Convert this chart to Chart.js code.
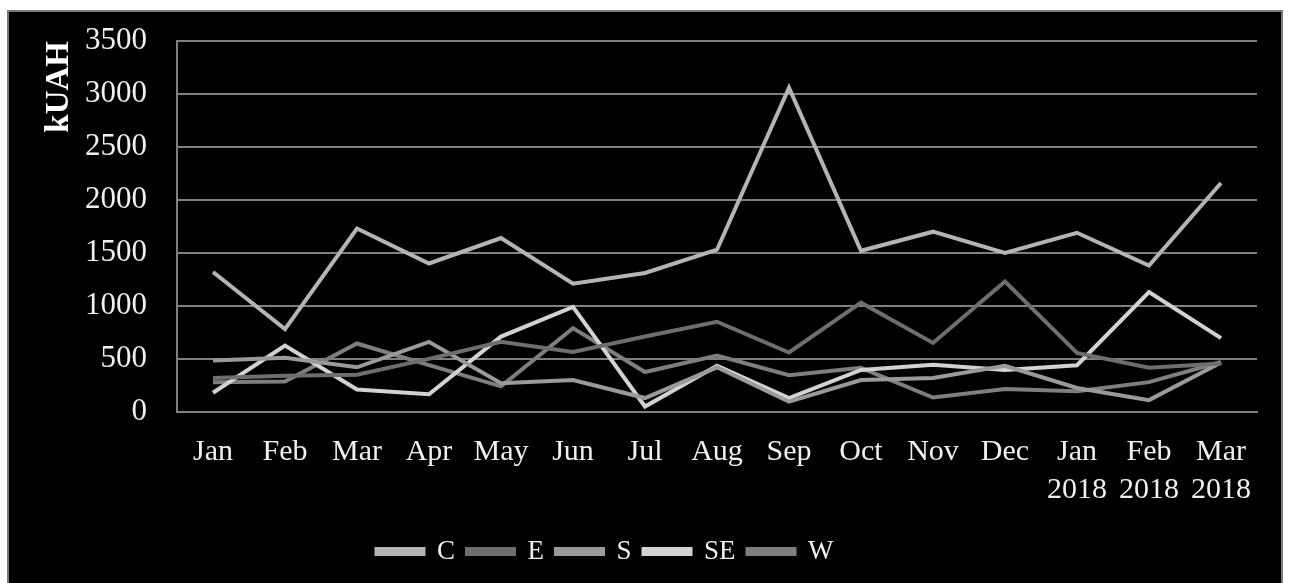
<!DOCTYPE html>
<html>
<head>
<meta charset="utf-8">
<script src="https://cdn.jsdelivr.net/npm/chart.js@4/dist/chart.umd.min.js"></script>
<style>
  html, body { margin: 0; padding: 0; background: #ffffff; overflow: hidden; }
  #box {
    position: absolute; left: 7px; top: 10px;
    width: 1272px; height: 600px;
    background: #000; border: 2px solid #7a7a7a;
  }
  #wrap { position: absolute; left: 0; top: 0; width: 1272px; height: 571px; }
</style>
</head>
<body>
<div id="box"><div id="wrap"><canvas id="myChart" width="1272" height="571"></canvas></div></div>
<script>
// months (two-line labels for 2018)
var labels = ['Jan', 'Feb', 'Mar', 'Apr', 'May', 'Jun', 'Jul', 'Aug', 'Sep', 'Oct', 'Nov', 'Dec',
    ['Jan', '2018'], ['Feb', '2018'], ['Mar', '2018']];

var seriesC  = [1320, 780, 1730, 1400, 1640, 1210, 1310, 1530, 3060, 1520, 1700, 1500, 1690, 1380, 2160];
var seriesE  = [320, 340, 350, 500, 660, 565, 710, 850, 560, 1030, 650, 1230, 555, 415, 455];
var seriesS  = [485, 510, 420, 660, 270, 300, 130, 420, 95, 300, 320, 435, 225, 110, 465];
var seriesSE = [180, 625, 210, 165, 710, 990, 50, 435, 130, 395, 445, 395, 440, 1130, 695];
var seriesW  = [280, 285, 645, 440, 240, 790, 375, 530, 345, 415, 135, 215, 195, 280, 470];

var yTicks = [0, 500, 1000, 1500, 2000, 2500, 3000, 3500];

function line(name, data, color) {
    return {
        label: name,
        data: data,
        borderColor: color,
        backgroundColor: color,
        borderWidth: 4,
        pointRadius: 0,
        tension: 0,
        fill: false
    };
}

// the legend sits a little left of centre and a bit higher in the original
var shiftLegend = {
    id: 'shiftLegend',
    beforeDraw: function (chart) {
        var lg = chart.legend;
        if (lg && !lg._shifted) {
            lg.left -= 38;
            lg.right -= 38;
            lg.top -= 4;
            lg.bottom -= 4;
            lg._shifted = true;
        }
    }
};

var ctx = document.getElementById('myChart').getContext('2d');
var chart = new Chart(ctx, {
    type: 'line',
    data: {
        labels: labels,
        datasets: [
            line('C', seriesC, '#b4b4b4'),
            line('E', seriesE, '#6e6e6e'),
            line('S', seriesS, '#9a9a9a'),
            line('SE', seriesSE, '#d2d2d2'),
            line('W', seriesW, '#7e7e7e')
        ]
    },
    plugins: [shiftLegend],
    options: {
        responsive: false,
        animation: false,
        layout: { padding: { left: 20, right: 24, top: 29, bottom: 4 } },
        plugins: {
            legend: {
                position: 'bottom',
                labels: {
                    color: '#f0f0f0',
                    font: { family: 'Liberation Serif', size: 27 },
                    boxWidth: 47,
                    boxHeight: 5,
                    padding: 12
                }
            },
            tooltip: { enabled: false }
        },
        scales: {
            x: {
                offset: true,
                grid: { display: false, drawTicks: false, offset: true },
                border: { display: true, color: '#808080', width: 2 },
                ticks: {
                    color: '#f0f0f0',
                    font: { family: 'Liberation Serif', size: 30, lineHeight: 1.27 },
                    padding: 21,
                    maxRotation: 0,
                    autoSkip: false
                }
            },
            y: {
                min: 0,
                max: 3500,
                afterBuildTicks: function (scale) {
                    scale.ticks = yTicks.map(function (v) { return { value: v }; });
                },
                afterFit: function (scale) { scale.width = 148; },
                grid: { color: '#808080', lineWidth: 2, tickLength: 30, tickColor: 'rgba(0,0,0,0)' },
                border: { display: true, color: '#808080', width: 2 },
                ticks: {
                    color: '#f0f0f0',
                    font: { family: 'Liberation Serif', size: 31 },
                    padding: 0,
                    callback: function (v) { return String(v); }
                },
                title: {
                    display: true,
                    text: 'kUAH',
                    align: 'end',
                    color: '#ffffff',
                    font: { family: 'Liberation Serif', size: 33, weight: 'bold' },
                    padding: { top: 11, bottom: 0 }
                }
            }
        }
    }
});
</script>
</body>
</html>
